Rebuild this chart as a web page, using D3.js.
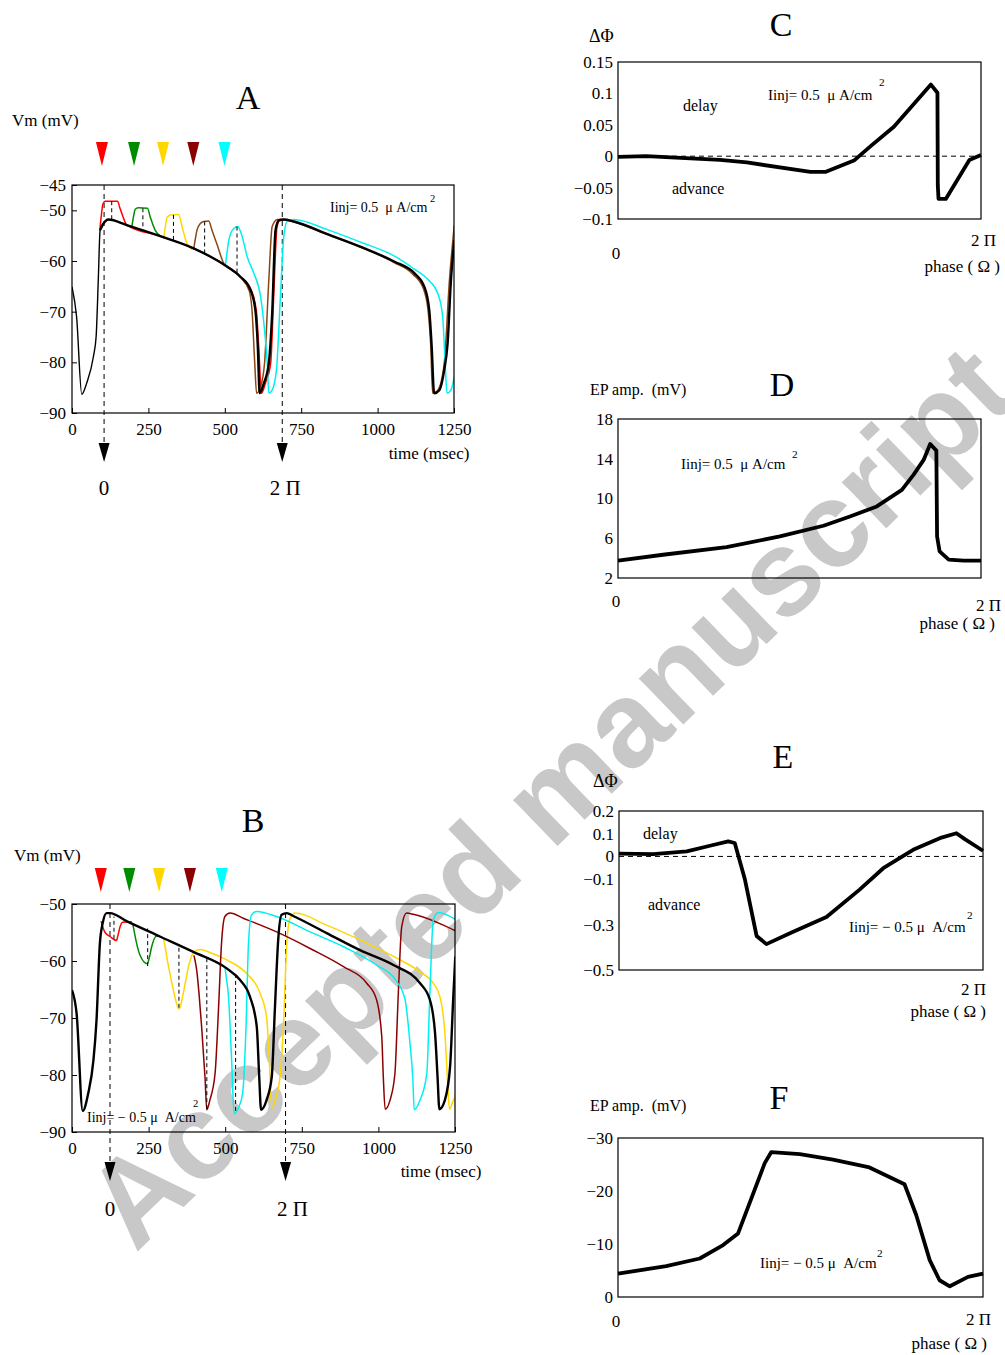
<!DOCTYPE html>
<html>
<head>
<meta charset="utf-8">
<script src="https://cdn.jsdelivr.net/npm/d3@7"></script>
<style>
  body { margin: 0; background: #fff; }
  svg text { font-family: "Liberation Serif", "Times New Roman", serif; white-space: pre; }
</style>
</head>
<body>
<svg id="fig" width="1005" height="1355"></svg>
<script>
// ---- data (time in msec, Vm in mV; phase as fraction of the cycle) ----
const xTicks = [0, 250, 500, 750, 1000, 1250];
const yTicksA = [-45, -50, -60, -70, -80, -90];
const yTicksB = [-50, -60, -70, -80, -90];
const stimColors = ["#ff0000", "#008c00", "#ffd700", "#8b0000", "#00ffff"];
const traceColorsA = ["#ff0000", "#008c00", "#ffd700", "#8c4614", "#00f0f0"];
const traceColorsB = ["#ff0000", "#008c00", "#ffd700", "#8b0000", "#00f0f0"];
const stimTimesA = [98, 203, 298, 397, 499];
const stimTimesB = [94, 187, 284, 385, 489];
const phaseTimesA = [105, 688];
const phaseTimesB = [124, 697];
const phaseLabels = ["0", "2 \u03a0"];

// panel A : Iinj = +0.5
const ctrlA = [[0,-65.1],[15,-71],[32,-86.3],[48,-84.1],[70,-78.9],[79,-74.9],[86,-63.8],[92,-53.9],[103,-52.6],[119,-51.8],[179,-52.9],[289,-55.1],[398,-57.5],[507,-61.1],[551,-63.1],[584,-65.7],[600,-69.7],[608,-76.9],[614,-86.1],[628,-84.1],[644,-80.2],[655,-70.3],[666,-53.9],[677,-52],[693,-51.8],[726,-52.2],[836,-54.7],[945,-57.2],[1054,-60.1],[1120,-62.4],[1153,-65.1],[1169,-69.7],[1177,-76.9],[1185,-86.1],[1202,-85.5],[1218,-81.5],[1229,-76.3],[1240,-63.8],[1251,-55.9]];
const redA = [[91,-54],[96,-51],[101,-48.8],[108,-48.2],[149,-48.2],[157,-49.6],[166,-51.1],[179,-52.9],[289,-55.1],[398,-57.5],[507,-61.1],[551,-63.1],[586,-65.7],[603,-69.7],[611,-76.9],[620,-86.1],[633,-84.1],[650,-80.2],[660,-67],[671,-53.2],[682,-51.8],[700,-51.9],[726,-52.2]];
const greenA = [[196,-53.2],[202,-51],[207,-49.8],[217,-49.5],[247,-49.6],[256,-51.3],[272,-53.9],[289,-55.1]];
const goldA = [[300,-55.5],[306,-53],[311,-51.4],[322,-50.9],[349,-50.8],[360,-53.2],[376,-56.5],[393,-57.7]];
const brownA = [[398,-57.8],[404,-55.5],[409,-53.9],[420,-52.6],[431,-52.2],[447,-52.1],[458,-53.9],[475,-56.8],[497,-60.5],[507,-61.1],[551,-63.2],[580,-65.9],[589,-69.7],[598,-80.2],[604,-86.1],[617,-84.8],[630,-80.2],[644,-63.8],[655,-53.2],[672,-51.8],[693,-51.8],[726,-52.3],[836,-54.8],[945,-57.3],[1054,-60.3],[1115,-62.6],[1150,-65.5],[1165,-69.7],[1174,-76.9],[1180,-86.1],[1197,-85.5],[1218,-80.2],[1235,-63.8],[1251,-52.9]];
const cyanA = [[502,-60.8],[508,-58],[513,-55.9],[529,-53.6],[542,-53.2],[557,-55.2],[573,-59.1],[595,-62.4],[617,-67],[630,-73.6],[639,-80.2],[644,-86.1],[655,-85.5],[669,-81.5],[682,-67],[693,-55.2],[704,-52.2],[726,-51.8],[836,-53.8],[945,-56.3],[1054,-59],[1120,-61.6],[1164,-63.6],[1197,-66.4],[1213,-71],[1221,-80.2],[1227,-86.1],[1240,-85.5],[1251,-82.8]];
const epTimesA = [130, 232, 332, 434, 540];
const epPeakA = [-48.2, -49.6, -50.9, -52.2, -53.2];
const epBaseA = [-51.9, -53.4, -56.2, -59.1, -62.4];

// panel B : Iinj = -0.5
const ctrlB = [[0,-65.1],[15,-69.2],[35,-86.3],[53,-83.2],[70,-77.4],[80,-70.4],[91,-56.9],[100,-53.4],[113,-51.6],[124,-51.6],[178,-53],[287,-55.7],[396,-58.4],[505,-61.3],[548,-63.3],[581,-66.3],[603,-71.5],[611,-80.3],[617,-86.1],[635,-84.4],[652,-80.3],[662,-68.6],[673,-56.3],[684,-51.9],[701,-51.6],[722,-52.1],[831,-55.1],[940,-58.1],[1049,-60.7],[1136,-63.9],[1168,-66.8],[1185,-72.7],[1193,-80.3],[1199,-86],[1217,-84.4],[1234,-78.5],[1244,-66.8],[1251,-59.2]];
const redB = [[95,-53],[100,-54],[108,-55],[124,-55.7],[145,-56.4],[150,-55.5],[157,-54],[165,-53.2],[195,-53.1]];
const greenB = [[198,-53.4],[203,-54.8],[210,-56.7],[222,-59],[246,-60.5],[252,-59.5],[260,-57.5],[276,-55.6],[287,-55.7]];
const goldB = [[298,-56],[304,-57.5],[309,-59.2],[320,-62.3],[331,-65.1],[349,-68.4],[356,-67.5],[363,-65.7],[372,-63.2],[380,-61],[388,-59.5],[396,-58.5],[418,-58],[450,-58.5],[505,-59.8],[570,-62.2],[614,-65.7],[635,-69.8],[644,-77.4],[652,-85.8],[663,-84.4],[679,-80.3],[690,-71.5],[701,-56.9],[712,-52.5],[728,-51.6],[831,-53.7],[940,-56.3],[1049,-59.2],[1136,-61.9],[1179,-63.9],[1201,-66.3],[1217,-72.7],[1225,-80.3],[1232,-86],[1245,-84.4],[1251,-83.8]];
const darkredB = [[398,-59],[402,-60],[407,-61.6],[415,-66],[423,-71.5],[434,-80.3],[440,-86.1],[450,-84.4],[467,-79.7],[478,-68.6],[488,-56.9],[499,-52.2],[516,-51.6],[559,-52.5],[668,-54.9],[777,-57.8],[886,-61],[962,-63.9],[994,-66.8],[1011,-73.3],[1016,-80.3],[1022,-86],[1038,-84.4],[1054,-79.7],[1065,-65.7],[1076,-54],[1092,-51.6],[1114,-51.8],[1212,-53.7],[1251,-54.7]];
const cyanB = [[499,-61],[505,-63.5],[510,-65.7],[521,-77.4],[529,-86.8],[543,-85.8],[557,-83.2],[568,-71.5],[576,-56.9],[586,-51.9],[603,-51.3],[668,-52.2],[777,-54.9],[886,-57.5],[994,-60.7],[1060,-63.6],[1087,-66.8],[1103,-74.4],[1112,-80.3],[1117,-86.1],[1136,-84.4],[1158,-79.7],[1168,-65.7],[1179,-52.8],[1196,-51.5],[1251,-52.7]];
const epTimesB = [137, 247, 349, 440, 534];
const epPeakB = [-56.1, -60.9, -68.2, -86, -86.3];
const epBaseB = [-52.2, -54.3, -57.2, -59.2, -62.2];

// phase response curves
const yTicksC = [0.15, 0.1, 0.05, 0, -0.05, -0.1];
const phaseC = [0, 0.078, 0.281, 0.355, 0.53, 0.571, 0.65, 0.696, 0.76, 0.862, 0.88, 0.881, 0.883, 0.903, 0.968, 1.0];
const dPhiC = [-0.001, 0, -0.006, -0.01, -0.025, -0.025, -0.007, 0.016, 0.047, 0.114, 0.101, -0.047, -0.068, -0.068, -0.006, 0.002];

const yTicksD = [18, 14, 10, 6, 2];
const phaseD = [0, 0.124, 0.299, 0.446, 0.566, 0.639, 0.713, 0.782, 0.814, 0.842, 0.86, 0.877, 0.879, 0.886, 0.911, 0.952, 1.0];
const ampD = [3.74, 4.34, 5.11, 6.18, 7.26, 8.19, 9.2, 10.87, 12.38, 13.88, 15.49, 14.82, 6.18, 4.68, 3.84, 3.74, 3.74];

const yTicksE = [0.2, 0.1, 0, -0.1, -0.3, -0.5];
const phaseE = [0, 0.094, 0.186, 0.25, 0.30, 0.318, 0.346, 0.378, 0.405, 0.474, 0.57, 0.661, 0.726, 0.808, 0.886, 0.927, 0.95, 1.0];
const dPhiE = [0.012, 0.010, 0.022, 0.047, 0.066, 0.059, -0.102, -0.35, -0.386, -0.335, -0.267, -0.146, -0.052, 0.029, 0.083, 0.102, 0.076, 0.025];

const yTicksF = [-30, -20, -10, 0];
const phaseF = [0, 0.132, 0.224, 0.288, 0.329, 0.402, 0.42, 0.498, 0.589, 0.689, 0.785, 0.817, 0.854, 0.881, 0.909, 0.959, 1.0];
const ampF = [-4.42, -5.81, -7.26, -9.79, -12.0, -25.26, -27.35, -26.97, -25.9, -24.44, -21.28, -15.47, -6.95, -3.16, -2.02, -3.79, -4.42];

// ---- drawing ----
const svg = d3.select('#fig');
const minus = d => (d < 0 ? '\u2212' : '') + Math.abs(d);

function label(x, y, str, size, anchor) {
  return svg.append('text').attr('x', x).attr('y', y).attr('font-size', size)
    .attr('text-anchor', anchor || 'start').attr('fill', '#000').text(str);
}

// watermark, underneath everything
svg.append('text')
  .attr('transform', 'translate(578,826) rotate(-44)')
  .attr('text-anchor', 'middle')
  .style('font-family', '"Liberation Sans", Arial, sans-serif')
  .attr('font-weight', 700)
  .attr('font-size', 121)
  .attr('fill', '#c8c8c8')
  .text('Accepted manuscript');

function tracePanel(o) {
  const x = d3.scaleLinear().domain([0, 1250]).range([o.l, o.r]);
  const y = d3.scaleLinear().domain(o.yDom).range([o.b, o.t]);
  const g = svg.append('g');

  g.append('clipPath').attr('id', 'clip' + o.name)
    .append('rect').attr('x', o.l).attr('y', o.t).attr('width', o.r - o.l).attr('height', o.b - o.t);

  const ax = g.append('g').attr('transform', `translate(0,${o.b})`)
    .call(d3.axisBottom(x).tickValues(xTicks).tickSize(-5).tickPadding(10).tickFormat(d3.format('d')));
  ax.select('.domain').remove();
  ax.selectAll('text').attr('font-size', 17).attr('fill', '#000');
  ax.selectAll('line').attr('stroke', '#000');

  const ay = g.append('g').attr('transform', `translate(${o.l},0)`)
    .call(d3.axisLeft(y).tickValues(o.yTicks).tickSize(-5).tickPadding(6).tickFormat(minus));
  ay.select('.domain').remove();
  ay.selectAll('text').attr('font-size', 17).attr('fill', '#000');
  ay.selectAll('line').attr('stroke', '#000');

  // phase reference lines with arrows
  o.phaseTimes.forEach((t, i) => {
    const px = x(t);
    g.append('line').attr('x1', px).attr('x2', px).attr('y1', o.t).attr('y2', o.arrowY)
      .attr('stroke', '#000').attr('stroke-width', 1).attr('stroke-dasharray', '5,4');
    g.append('path')
      .attr('d', `M${px - 5.5},${o.arrowY} L${px + 5.5},${o.arrowY} L${px},${o.arrowY + 19} Z`)
      .attr('fill', '#000');
    label(px + o.labelDx[i], o.labelY, phaseLabels[i], 21, 'middle');
  });

  const line = d3.line().x(d => x(d[0])).y(d => y(d[1])).curve(d3.curveMonotoneX);
  const plot = g.append('g').attr('clip-path', `url(#clip${o.name})`);

  o.traces.forEach((tr, i) => {
    plot.append('path').datum(tr).attr('d', line)
      .attr('fill', 'none').attr('stroke', o.colors[i]).attr('stroke-width', 1.5);
  });
  // control trace: thin before the first upstroke peak when asked, thick after
  const split = o.thinUntil || 0;
  if (split > 0) {
    plot.append('path').datum(o.ctrl.filter(d => d[0] <= split)).attr('d', line)
      .attr('fill', 'none').attr('stroke', '#000').attr('stroke-width', 1.4);
  }
  plot.append('path').datum(o.ctrl.filter(d => d[0] >= split - 12)).attr('d', line)
    .attr('fill', 'none').attr('stroke', '#000').attr('stroke-width', 2.4);

  o.epTimes.forEach((t, i) => {
    plot.append('line').attr('x1', x(t)).attr('x2', x(t))
      .attr('y1', y(o.epPeak[i])).attr('y2', y(o.epBase[i]))
      .attr('stroke', '#000').attr('stroke-width', 1).attr('stroke-dasharray', '4,3');
  });

  g.append('rect').attr('x', o.l).attr('y', o.t).attr('width', o.r - o.l).attr('height', o.b - o.t)
    .attr('fill', 'none').attr('stroke', '#000').attr('stroke-width', 1.2);

  // stimulus markers
  o.stimTimes.forEach((t, i) => {
    const sx = x(t);
    g.append('path').attr('d', `M${sx - 6},${o.markY} L${sx + 6},${o.markY} L${sx},${o.markY + 24} Z`)
      .attr('fill', stimColors[i]);
  });
}

tracePanel({
  name: 'A', l: 72, r: 454, t: 185, b: 413, yDom: [-90, -45], yTicks: yTicksA,
  ctrl: ctrlA, thinUntil: 103, traces: [redA, greenA, goldA, brownA, cyanA], colors: traceColorsA,
  epTimes: epTimesA, epPeak: epPeakA, epBase: epBaseA,
  phaseTimes: phaseTimesA, arrowY: 443, labelY: 495, labelDx: [0, 3],
  stimTimes: stimTimesA, markY: 142
});

tracePanel({
  name: 'B', l: 72, r: 455, t: 904, b: 1132, yDom: [-90, -50], yTicks: yTicksB,
  ctrl: ctrlB, traces: [redB, greenB, goldB, darkredB, cyanB], colors: traceColorsB,
  epTimes: epTimesB, epPeak: epPeakB, epBase: epBaseB,
  phaseTimes: phaseTimesB, arrowY: 1162, labelY: 1216, labelDx: [0, 7],
  stimTimes: stimTimesB, markY: 868
});

function phasePanel(o) {
  const x = d3.scaleLinear().domain([0, 1]).range([o.l, o.r]);
  const y = d3.scaleLinear().domain(o.yDom).range([o.b, o.t]);
  const g = svg.append('g');

  const ay = g.append('g').attr('transform', `translate(${o.l},0)`)
    .call(d3.axisLeft(y).tickValues(o.yTicks).tickSize(0).tickPadding(5).tickFormat(minus));
  ay.select('.domain').remove();
  ay.selectAll('text').attr('font-size', 17).attr('fill', '#000');

  if (o.zero) {
    g.append('line').attr('x1', o.l).attr('x2', o.r).attr('y1', y(0)).attr('y2', y(0))
      .attr('stroke', '#000').attr('stroke-width', 1).attr('stroke-dasharray', '5,4');
  }
  g.append('rect').attr('x', o.l).attr('y', o.t).attr('width', o.r - o.l).attr('height', o.b - o.t)
    .attr('fill', 'none').attr('stroke', '#000').attr('stroke-width', 1.2);

  g.append('path').datum(d3.zip(o.px, o.py))
    .attr('d', d3.line().x(d => x(d[0])).y(d => y(d[1])))
    .attr('fill', 'none').attr('stroke', '#000').attr('stroke-width', 3.8)
    .attr('stroke-linejoin', 'round');

  if (o.zeroLabel) label(x(0) - 2, o.zeroLabelY, '0', 17, 'middle');
  label(o.twoPiX, o.twoPiY, '2 \u03a0', 17, 'end');
  label(o.phaseX, o.phaseY, 'phase ( \u03a9 )', 17, 'end');
}

phasePanel({ l: 618, r: 981, t: 62, b: 219, yDom: [-0.1, 0.15], yTicks: yTicksC, px: phaseC, py: dPhiC,
  zero: true, zeroLabel: true, zeroLabelY: 259, twoPiX: 996, twoPiY: 246, phaseX: 1000, phaseY: 272 });
phasePanel({ l: 618, r: 981, t: 419, b: 578, yDom: [2, 18], yTicks: yTicksD, px: phaseD, py: ampD,
  zero: false, zeroLabel: true, zeroLabelY: 607, twoPiX: 1001, twoPiY: 611, phaseX: 995, phaseY: 629 });
phasePanel({ l: 619, r: 983, t: 811, b: 970, yDom: [-0.5, 0.2], yTicks: yTicksE, px: phaseE, py: dPhiE,
  zero: true, zeroLabel: false, twoPiX: 986, twoPiY: 995, phaseX: 986, phaseY: 1017 });
phasePanel({ l: 618, r: 983, t: 1138, b: 1297, yDom: [0, -30], yTicks: yTicksF, px: phaseF, py: ampF,
  zero: false, zeroLabel: true, zeroLabelY: 1327, twoPiX: 991, twoPiY: 1325, phaseX: 987, phaseY: 1349 });

// ---- titles and annotations ----
label(248, 109, 'A', 34, 'middle');
label(253, 832, 'B', 34, 'middle');
label(781, 36, 'C', 34, 'middle');
label(782, 396, 'D', 34, 'middle');
label(783, 768, 'E', 34, 'middle');
label(779, 1109, 'F', 34, 'middle');

label(12, 126, 'Vm (mV)', 17);
label(14, 861, 'Vm (mV)', 17);
label(429, 459, 'time (msec)', 17, 'middle');
label(441, 1177, 'time (msec)', 17, 'middle');

label(589, 42, '\u0394\u03a6', 18);
label(593, 787, '\u0394\u03a6', 18);
label(590, 395, 'EP amp.  (mV)', 16);
label(590, 1111, 'EP amp.  (mV)', 16);

label(683, 111, 'delay', 16);
label(672, 194, 'advance', 16);
label(643, 839, 'delay', 16);
label(648, 910, 'advance', 16);

function iinj(x, y, str, size, sx, sy) {
  label(x, y, str, size);
  label(sx, sy, '2', size * 0.75);
}
iinj(330, 212, 'Iinj= 0.5  \u03bc A/cm', 14, 430, 202);
iinj(87, 1122, 'Iinj= \u2212 0.5 \u03bc  A/cm', 14, 193, 1107);
iinj(768, 100, 'Iinj= 0.5  \u03bc A/cm', 15, 879, 86);
iinj(681, 469, 'Iinj= 0.5  \u03bc A/cm', 15, 792, 458);
iinj(849, 932, 'Iinj= \u2212 0.5 \u03bc  A/cm', 15, 967, 919);
iinj(760, 1268, 'Iinj= \u2212 0.5 \u03bc  A/cm', 15, 877, 1257);
</script>
</body>
</html>
